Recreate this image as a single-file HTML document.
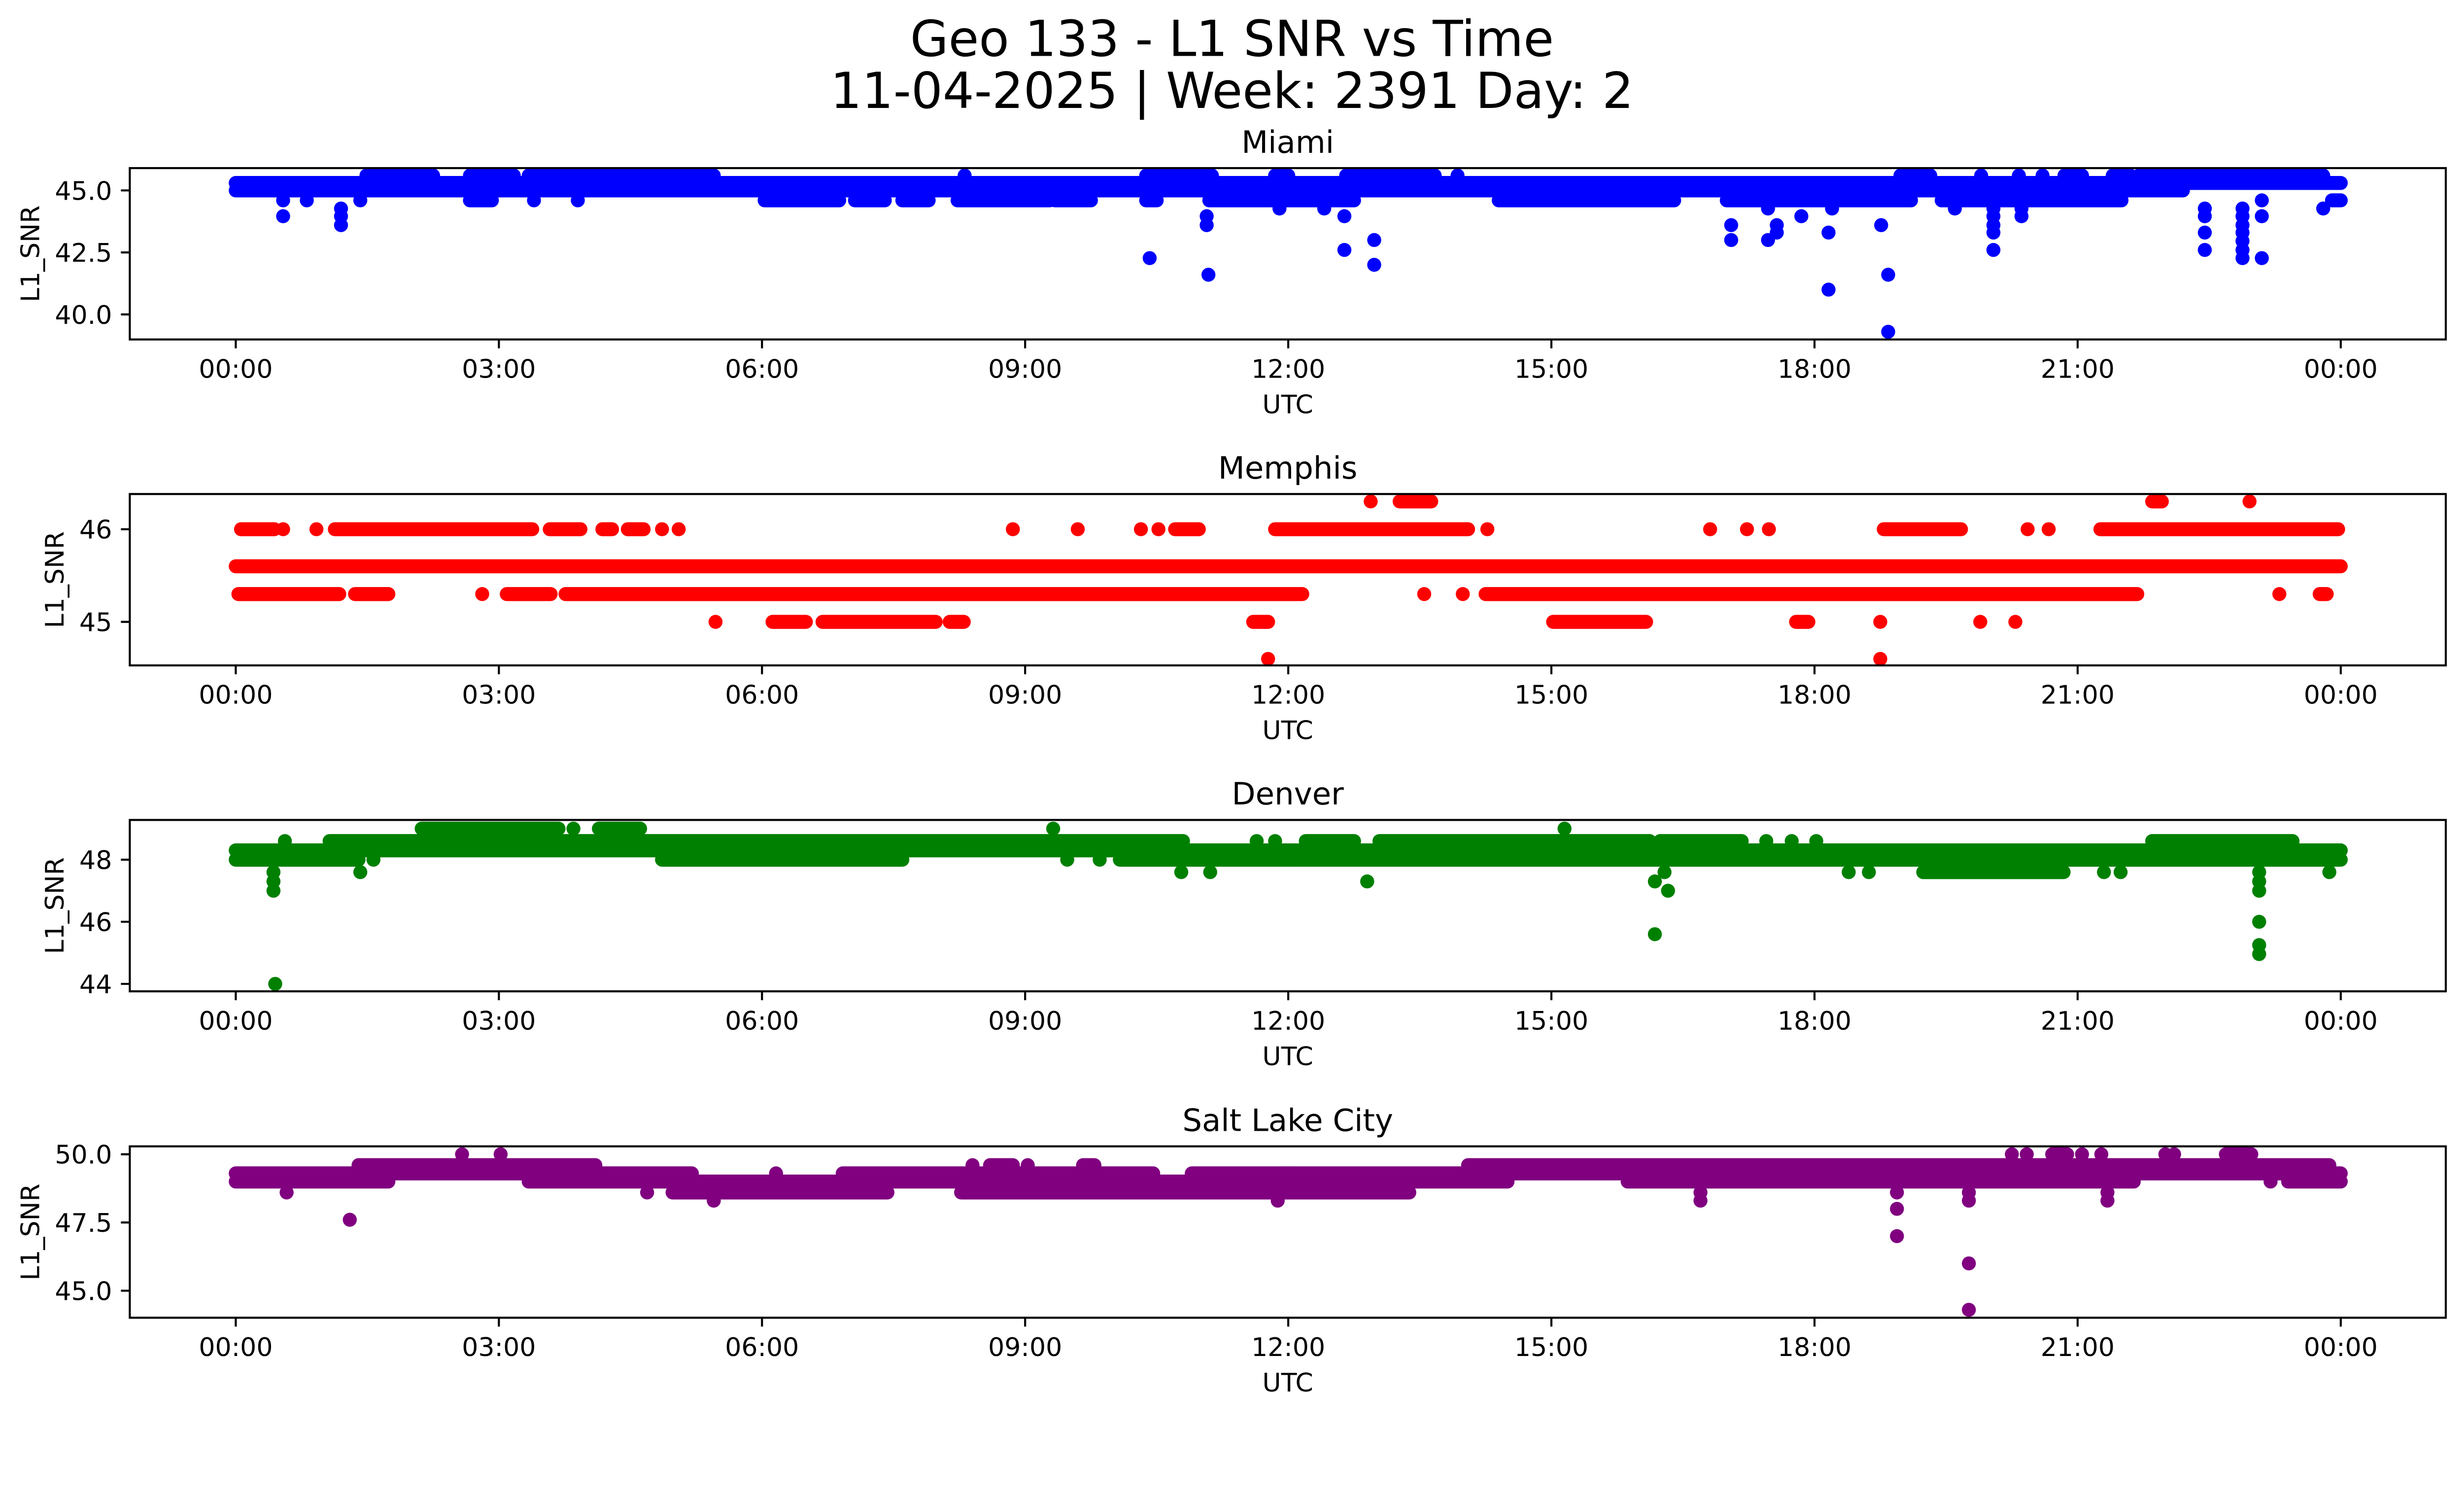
<!DOCTYPE html>
<html><head><meta charset="utf-8"><title>Geo 133 - L1 SNR vs Time</title>
<style>
html,body{margin:0;padding:0;background:#fff;overflow:hidden;}
svg{display:block;font-family:"DejaVu Sans","Liberation Sans",sans-serif;width:100vw;height:calc(100vw * 3033 / 5278);}
</style></head>
<body>
<svg id="fig" xmlns="http://www.w3.org/2000/svg" viewBox="0 0 5278 3033">
<rect width="5278" height="3033" fill="#fff"/>
<text x="2639" y="120" font-size="106" text-anchor="middle">Geo 133 - L1 SNR vs Time</text>
<text x="2639" y="231" font-size="106" text-anchor="middle">11-04-2025 | Week: 2391 Day: 2</text>
</svg>
<script>
// ---- data (hours UTC, L1 SNR) ----
const xTickLabels = ["00:00","03:00","06:00","09:00","12:00","15:00","18:00","21:00","00:00"];
const xTickHours = [0,3,6,9,12,15,18,21,24];

const miamiRunStart = [0,0,1.49,2.67,3.34,10.38,11.85,12.66,18.98,20.85,21.4,21.7,2.67,6.03,7.06,7.6,8.23,9.34,10.38,11.1,14.4,17.0,19.45,23.9];
const miamiRunEnd   = [24,22.2,2.25,3.17,5.45,11.13,12.0,13.67,19.32,21.05,21.6,23.8,2.92,6.88,7.4,7.9,9.28,9.75,10.5,12.75,16.4,19.1,21.5,24];
const miamiRunValue = [45.3,45.0,45.6,45.6,45.6,45.6,45.6,45.6,45.6,45.6,45.6,45.6,44.6,44.6,44.6,44.6,44.6,44.6,44.6,44.6,44.6,44.6,44.6,44.6];
const miamiPtTime  = [8.31,13.93,19.9,20.33,20.6,0.54,0.81,1.42,3.4,3.9,0.54,1.2,1.2,1.2,10.42,11.07,11.07,11.09,11.9,12.41,12.64,12.64,12.98,12.98,17.05,17.05,17.47,17.47,17.57,17.57,17.85,18.16,18.16,18.2,18.76,18.84,18.84,19.6,20.04,20.04,20.04,20.04,20.04,20.36,20.36,22.45,22.45,22.45,22.45,22.88,22.88,22.88,22.88,22.88,22.88,22.88,23.1,23.1,23.1,23.8];
const miamiPtValue = [45.6,45.6,45.6,45.6,45.6,44.6,44.6,44.6,44.6,44.6,43.96,44.27,43.96,43.6,42.27,43.96,43.6,41.6,44.27,44.27,43.96,42.6,43.0,42.0,43.6,43.0,44.27,43.0,43.6,43.3,43.96,43.3,41.0,44.27,43.6,41.6,39.3,44.27,44.27,43.96,43.6,43.3,42.6,44.27,43.96,44.27,43.96,43.3,42.6,44.27,43.96,43.6,43.3,42.96,42.6,42.27,44.6,43.96,42.27,44.27];

const memphisRunStart = [0,0.06,1.13,3.58,4.18,4.47,10.71,11.85,21.26,13.27,21.85,18.79,0.03,1.36,3.09,3.76,14.25,23.76,6.12,6.69,8.14,11.6,15.02,17.79];
const memphisRunEnd   = [24,0.44,3.38,3.93,4.29,4.65,10.98,14.05,23.97,13.63,21.96,19.67,1.18,1.74,3.59,12.16,21.68,23.84,6.5,7.98,8.3,11.77,16.08,17.93];
const memphisRunValue = [45.6,46.0,46.0,46.0,46.0,46.0,46.0,46.0,46.0,46.3,46.3,46.0,45.3,45.3,45.3,45.3,45.3,45.3,45.0,45.0,45.0,45.0,45.0,45.0];
const memphisPtTime  = [0.54,0.92,4.86,5.05,8.86,9.6,10.32,10.52,14.27,16.81,17.23,17.48,20.43,20.67,12.94,22.96,2.81,13.55,13.99,23.3,5.47,18.75,19.89,20.29,11.77,18.75];
const memphisPtValue = [46.0,46.0,46.0,46.0,46.0,46.0,46.0,46.0,46.0,46.0,46.0,46.0,46.0,46.0,46.3,46.3,45.3,45.3,45.3,45.3,45.0,45.0,45.0,45.0,44.6,44.6];

const denverRunStart = [0,4.86,10.08,12,0,12,1.07,12.2,13.04,16.24,21.85,2.12,4.14,19.24];
const denverRunEnd   = [1.4,7.6,12,24,12,24,10.8,12.75,16.12,17.17,23.45,3.68,4.61,20.84];
const denverRunValue = [48.0,48.0,48.0,48.0,48.3,48.3,48.6,48.6,48.6,48.6,48.6,49.0,49.0,47.6];
const denverPtTime  = [1.57,9.48,9.85,0.56,11.64,11.85,17.45,17.74,18.02,3.85,9.32,15.15,0.43,1.42,10.78,11.11,16.29,18.39,18.62,21.3,21.49,23.07,23.87,0.43,0.43,0.45,12.9,16.18,16.33,16.18,23.07,23.07,23.07,23.07,23.07];
const denverPtValue = [48.0,48.0,48.0,48.6,48.6,48.6,48.6,48.6,48.6,49.0,49.0,49.0,47.6,47.6,47.6,47.6,47.6,47.6,47.6,47.6,47.6,47.6,47.6,47.3,47.0,44.0,47.3,47.3,47.0,45.6,47.3,47.0,46.0,45.25,44.96];

const slcRunStart = [0,3.34,12,15.87,23.4,0,6.92,10.9,12,1.4,8.6,9.66,14.05,4.98,8.27,12,20.71,22.69];
const slcRunEnd   = [1.74,12,14.5,21.64,24,5.2,10.46,12,24,4.1,8.86,9.79,23.87,7.43,12,13.38,20.88,22.98];
const slcRunValue = [49.0,49.0,49.0,49.0,49.0,49.3,49.3,49.3,49.3,49.6,49.6,49.6,49.6,48.6,48.6,48.6,50.0,50.0];
const slcPtTime  = [23.2,6.16,8.4,9.03,0.58,4.69,16.7,18.94,19.76,21.34,2.58,3.02,20.25,20.42,21.05,21.27,22.0,22.1,1.3,5.45,11.88,16.7,19.76,21.34,18.94,18.94,19.76,19.76];
const slcPtValue = [49.0,49.3,49.6,49.6,48.6,48.6,48.6,48.6,48.6,48.6,50.0,50.0,50.0,50.0,50.0,50.0,50.0,50.0,47.6,48.3,48.3,48.3,48.3,48.3,48.0,47.0,46.0,44.3];

const panelTitles = ["Miami","Memphis","Denver","Salt Lake City"];
const panelColors = ["#0000ff","#ff0000","#008000","#800080"];
const panelYMin = [38.99,44.53,43.76,44.01];
const panelYMax = [45.9,46.38,49.28,50.29];
const panelYTicks = [[40,42.5,45],[45,46],[44,46,48],[45,47.5,50]];
const panelYTickLabels = [["40.0","42.5","45.0"],["45","46"],["44","46","48"],["45.0","47.5","50.0"]];
const panelYLabelX = [66,118,118,66];
const panelData = [
  [miamiRunStart,miamiRunEnd,miamiRunValue,miamiPtTime,miamiPtValue],
  [memphisRunStart,memphisRunEnd,memphisRunValue,memphisPtTime,memphisPtValue],
  [denverRunStart,denverRunEnd,denverRunValue,denverPtTime,denverPtValue],
  [slcRunStart,slcRunEnd,slcRunValue,slcPtTime,slcPtValue]
];

// ---- layout ----
const NS = "http://www.w3.org/2000/svg";
const svg = document.getElementById("fig");
const AX_L = 278, AX_R = 5239, X0 = 505, X24 = 5014;
const panelTop = [360,1058,1756,2455];
const panelH = 367;
const R = 15;
function mk(tag, attrs, parent){
  const e = document.createElementNS(NS, tag);
  for (const k in attrs) e.setAttribute(k, attrs[k]);
  (parent||svg).appendChild(e);
  return e;
}
function xScale(h){ return X0 + (X24 - X0) * h / 24; }

panelTitles.forEach((title, i) => {
  const top = panelTop[i], bot = top + panelH;
  const yMin = panelYMin[i], yMax = panelYMax[i];
  const yScale = v => bot - (v - yMin) / (yMax - yMin) * panelH;
  const g = mk("g", {});
  
  

  const cp = mk("clipPath", {id: "clip" + i}, g);
  mk("rect", {x: AX_L, y: top, width: AX_R - AX_L, height: panelH}, cp);

  const marks = mk("g", {"clip-path": "url(#clip" + i + ")", fill: panelColors[i], stroke: panelColors[i]}, g);
  
  
  const [rs, re, rv, pt, pv] = panelData[i];
  rs.forEach((s, k) => {
    const x1 = xScale(s), x2 = xScale(re[k]), y = yScale(rv[k]);
    let el;
    if (Math.abs(x2 - x1) < 0.5) {
      el = mk("circle", {cx: x1, cy: y, r: R, stroke: "none"}, marks);
    } else {
      el = mk("line", {x1: x1, y1: y, x2: x2, y2: y, "stroke-width": 2*R, "stroke-linecap": "round"}, marks);
    }
    
    
  });
  pt.forEach((t, k) => {
    const c = mk("circle", {cx: xScale(t), cy: yScale(pv[k]), r: R, stroke: "none"}, marks);
    
    
  });

  const frame = mk("rect", {x: AX_L, y: top, width: AX_R - AX_L, height: panelH, fill: "none", stroke: "#000", "stroke-width": 4.4}, g);
  
  

  xTickHours.forEach((h, k) => {
    const x = xScale(h);
    const tk = mk("line", {x1: x, y1: bot, x2: x, y2: bot + 19, stroke: "#000", "stroke-width": 4.4}, g);
    
    
    const tl = mk("text", {x: x, y: bot + 82, "font-size": 55, "text-anchor": "middle"}, g);
    tl.textContent = xTickLabels[k];
    
    
  });
  panelYTicks[i].forEach((v, k) => {
    const y = yScale(v);
    const tk = mk("line", {x1: AX_L - 19, y1: y, x2: AX_L, y2: y, stroke: "#000", "stroke-width": 4.4}, g);
    
    
    const tl = mk("text", {x: AX_L - 38, y: y + 20, "font-size": 55, "text-anchor": "end"}, g);
    tl.textContent = panelYTickLabels[i][k];
    
    
  });
  const xl = mk("text", {x: (AX_L + AX_R)/2, y: bot + 158, "font-size": 55, "text-anchor": "middle"}, g);
  xl.textContent = "UTC";
  
  
  const yc = top + panelH/2;
  const yl = mk("text", {x: panelYLabelX[i], y: yc, "font-size": 55, "text-anchor": "middle", "dominant-baseline": "central", transform: "rotate(-90 " + panelYLabelX[i] + " " + yc + ")"}, g);
  yl.textContent = "L1_SNR";
  
  
  const tt = mk("text", {x: (AX_L + AX_R)/2, y: top - 33, "font-size": 66, "text-anchor": "middle"}, g);
  tt.textContent = title;
  
  
});
</script>
</body></html>
